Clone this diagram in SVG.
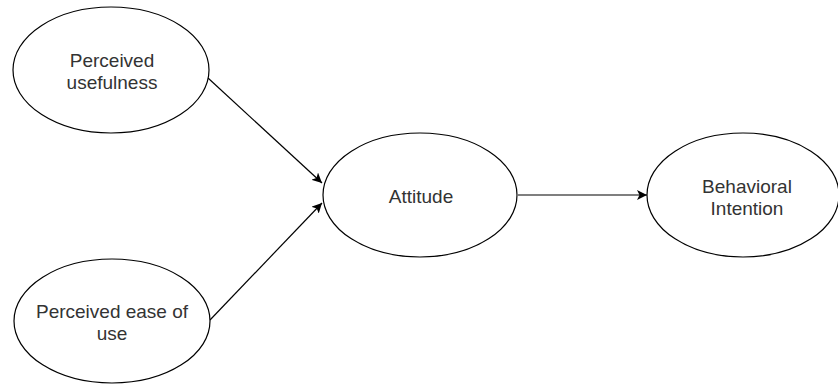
<svg xmlns="http://www.w3.org/2000/svg" width="838" height="388" viewBox="0 0 838 388">
<style>
.n ellipse{fill:#fff;stroke:#000;stroke-width:1.2}
.n text{font-family:"Liberation Sans",Arial,sans-serif;font-size:19px;fill:#333;text-anchor:middle}
.c line{stroke:#000;stroke-width:1.2;fill:none}
</style>
<defs>
<marker id="ah" viewBox="0 0 10 10" refX="10" refY="5" markerWidth="10" markerHeight="10" markerUnits="userSpaceOnUse" orient="auto">
<path d="M0,0 L10,5 L0,10 L2.5,5 Z" fill="#000"/>
</marker>
</defs>
<rect width="838" height="388" fill="#fff"/>
<g id="connectors" class="c">
<line x1="208" y1="78" x2="322" y2="183" marker-end="url(#ah)"/>
<line x1="210" y1="320" x2="322" y2="203" marker-end="url(#ah)"/>
<line x1="518" y1="195" x2="647" y2="195" marker-end="url(#ah)"/>
</g>
<g id="pu" class="n">
<ellipse cx="111" cy="70" rx="98" ry="63"/>
<text x="112" y="67">Perceived</text>
<text x="112" y="89">usefulness</text>
</g>
<g id="peou" class="n">
<ellipse cx="112" cy="321" rx="98" ry="62"/>
<text x="112" y="318">Perceived ease of</text>
<text x="112" y="340">use</text>
</g>
<g id="att" class="n">
<ellipse cx="420" cy="195" rx="97" ry="62"/>
<text x="421" y="203">Attitude</text>
</g>
<g id="bi" class="n">
<ellipse cx="743" cy="195" rx="96" ry="62"/>
<text x="747" y="193">Behavioral</text>
<text x="747" y="215">Intention</text>
</g>
</svg>
